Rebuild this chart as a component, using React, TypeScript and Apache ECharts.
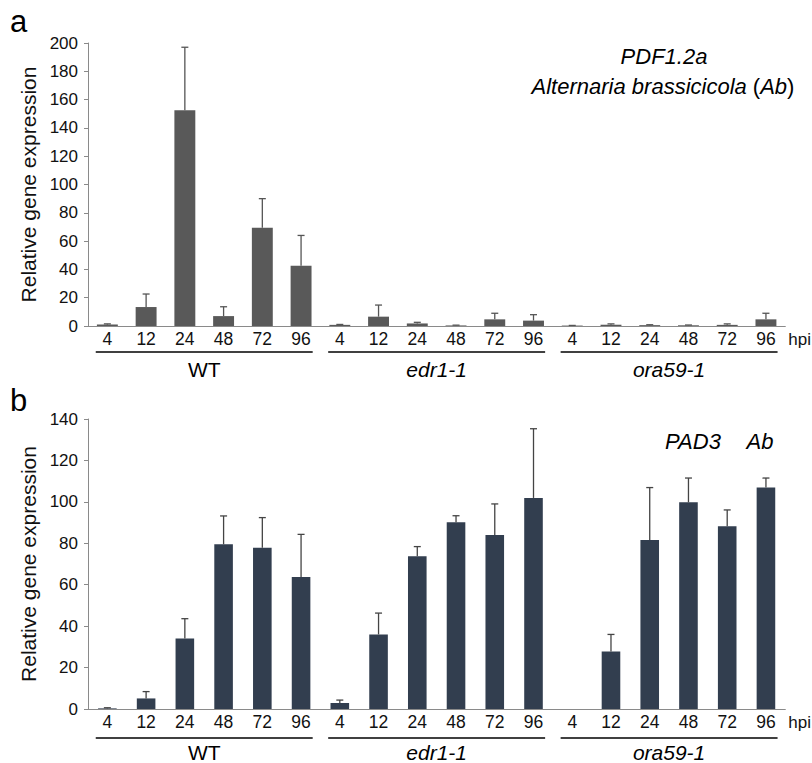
import React, { useEffect, useRef } from "react";
import * as echarts from "echarts";

const hpi = ["4", "12", "24", "48", "72", "96"];
const genotypes = ["WT", "edr1-1", "ora59-1"];
const genotypeItalic = [false, true, true];

// Panel a: PDF1.2a
const pdfMean = [1.0, 13.4, 152.5, 7.0, 69.5, 42.6, 0.8, 6.6, 1.8, 0.4, 4.7, 3.8, 0.3, 0.9, 0.6, 0.5, 0.8, 4.7];
const pdfErr = [0.5, 9.2, 44.5, 6.6, 20.5, 21.4, 0.3, 8.2, 0.8, 0.2, 4.3, 4.2, 0.1, 0.6, 0.3, 0.2, 0.7, 4.3];

// Panel b: PAD3
const padMean = [0.3, 5.1, 34.0, 79.5, 77.9, 63.7, 2.9, 36.0, 73.7, 90.1, 84.0, 101.9, 0, 27.7, 81.6, 99.8, 88.2, 106.9];
const padErr = [0.3, 3.3, 9.6, 13.7, 14.5, 20.6, 1.4, 10.3, 4.7, 3.2, 15.0, 33.4, 0, 8.3, 25.3, 11.7, 7.9, 4.6];

const yTicksA = { min: 0, max: 200, interval: 20 };
const yTicksB = { min: 0, max: 140, interval: 20 };

const categories = genotypes.flatMap((g) => hpi.map((h) => `${g}|${h}`));
const FONT = "'Liberation Sans', Arial, Helvetica, sans-serif";

function errData(mean: number[], err: number[]) {
  return mean.map((m, i) => [i, m, m + err[i]]).filter((d, i) => err[i] > 0);
}

function groupData() {
  return genotypes.map((g, gi) => [gi * hpi.length, 0, gi * hpi.length + hpi.length - 1]);
}

export default function App() {
  const ref = useRef<HTMLDivElement>(null);
  useEffect(() => {
    document.body.style.margin = "0";
    const chart = echarts.init(ref.current!, null, { renderer: "svg" });

    const makeX = (gridIndex: number) => ({
      type: "category",
      gridIndex,
      data: categories,
      axisLine: { lineStyle: { color: "#8a8a8a", width: 1 } },
      axisTick: { show: false },
      axisLabel: {
        formatter: (v: string) => v.split("|")[1],
        color: "#111",
        fontSize: 17.5,
        fontFamily: FONT,
        margin: 4,
        interval: 0,
      },
      name: "hpi",
      nameLocation: "end",
      nameGap: 3,
      nameTextStyle: {
        color: "#111",
        fontSize: 17,
        fontFamily: FONT,
        verticalAlign: "top",
        padding: [5, 0, 0, 0],
      },
    });

    const makeY = (gridIndex: number, t: { min: number; max: number; interval: number }) => ({
      type: "value",
      gridIndex,
      min: t.min,
      max: t.max,
      interval: t.interval,
      splitLine: { show: false },
      axisLine: { show: true, lineStyle: { color: "#8a8a8a", width: 1 } },
      axisTick: { show: true, length: 4, lineStyle: { color: "#8a8a8a" } },
      axisLabel: { color: "#111", fontSize: 17, fontFamily: FONT, margin: 10 },
      name: "Relative gene expression",
      nameLocation: "middle",
      nameGap: 49,
      nameTextStyle: { color: "#111", fontSize: 21, fontFamily: FONT },
    });

    const errSeries = (idx: number, mean: number[], err: number[], color: string) => ({
      type: "custom",
      xAxisIndex: idx,
      yAxisIndex: idx,
      z: 5,
      clip: false,
      encode: { x: 0, y: [1, 2] },
      data: errData(mean, err),
      renderItem: (params: any, api: any) => {
        const x = api.value(0);
        const p0 = api.coord([x, api.value(1)]);
        const p1 = api.coord([x, api.value(2)]);
        const style = { stroke: color, lineWidth: 1.3 };
        return {
          type: "group",
          children: [
            { type: "line", shape: { x1: p0[0], y1: p0[1], x2: p1[0], y2: p1[1] }, style },
            { type: "line", shape: { x1: p1[0] - 3.5, y1: p1[1], x2: p1[0] + 3.5, y2: p1[1] }, style },
          ],
        };
      },
    });

    const groupSeries = (idx: number, lineOff: number, textOff: number) => ({
      type: "custom",
      xAxisIndex: idx,
      yAxisIndex: idx,
      clip: false,
      silent: true,
      encode: { x: [0, 2], y: 1 },
      data: groupData(),
      renderItem: (params: any, api: any) => {
        const s = api.coord([api.value(0), 0]);
        const e = api.coord([api.value(2), 0]);
        const bw = api.size([1, 0])[0];
        const x1 = s[0] - 0.3 * bw;
        const x2 = e[0] + 0.3 * bw;
        const y = s[1] + lineOff;
        const gi = params.dataIndex;
        return {
          type: "group",
          children: [
            { type: "line", shape: { x1, y1: y, x2, y2: y }, style: { stroke: "#000", lineWidth: 1.6 } },
            {
              type: "text",
              style: {
                text: genotypes[gi],
                x: (x1 + x2) / 2,
                y: s[1] + textOff,
                align: "center",
                verticalAlign: "middle",
                fontSize: 21,
                fontFamily: FONT,
                fontStyle: genotypeItalic[gi] ? "italic" : "normal",
                fill: "#000",
              },
            },
          ],
        };
      },
    });

    const titleStyle = { fontSize: 22, fontFamily: FONT, fill: "#000", align: "center", verticalAlign: "middle" };

    chart.setOption({
      animation: false,
      backgroundColor: "#fff",
      grid: [
        { left: 88, right: 22, top: 43, height: 283 },
        { left: 88, right: 22, top: 419, height: 290 },
      ],
      xAxis: [makeX(0), makeX(1)],
      yAxis: [makeY(0, yTicksA), makeY(1, yTicksB)],
      graphic: [
        { type: "text", left: 10, top: 6, style: { text: "a", fontSize: 31, fontFamily: FONT, fill: "#000" } },
        { type: "text", left: 10, top: 385, style: { text: "b", fontSize: 31, fontFamily: FONT, fill: "#000" } },
        { type: "text", x: 664, y: 56, style: { ...titleStyle, text: "PDF1.2a", fontStyle: "italic" } },
        {
          type: "text",
          x: 663,
          y: 86,
          style: {
            ...titleStyle,
            text: "{i|Alternaria brassicicola} ({i|Ab})",
            rich: { i: { fontSize: 22, fontStyle: "italic", fontFamily: FONT, fill: "#000" } },
          },
        },
        { type: "text", x: 693, y: 441, style: { ...titleStyle, text: "PAD3", fontStyle: "italic" } },
        { type: "text", x: 760, y: 441, style: { ...titleStyle, text: "Ab", fontStyle: "italic" } },
      ],
      series: [
        {
          type: "bar",
          xAxisIndex: 0,
          yAxisIndex: 0,
          data: pdfMean,
          barWidth: "54%",
          itemStyle: { color: "#595959" },
        },
        errSeries(0, pdfMean, pdfErr, "#555"),
        groupSeries(0, 26, 43),
        {
          type: "bar",
          xAxisIndex: 1,
          yAxisIndex: 1,
          data: padMean,
          barWidth: "48%",
          itemStyle: { color: "#323e4f" },
        },
        errSeries(1, padMean, padErr, "#444"),
        groupSeries(1, 29, 43),
      ],
    });
    return () => chart.dispose();
  }, []);
  return <div ref={ref} style={{ width: 812, height: 763 }} />;
}
